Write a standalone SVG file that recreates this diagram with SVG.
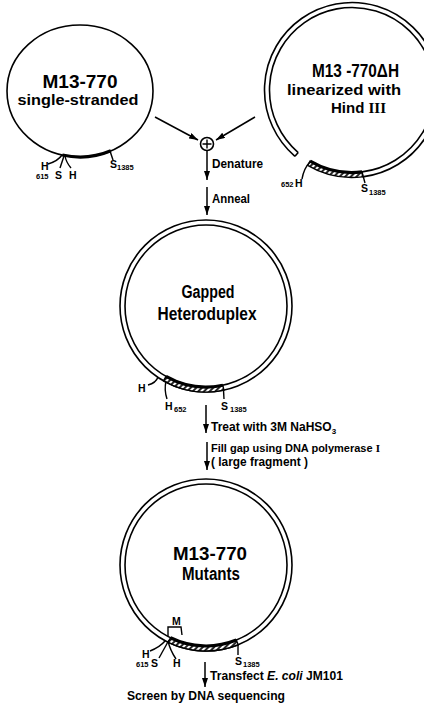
<svg xmlns="http://www.w3.org/2000/svg" width="424" height="711" viewBox="0 0 424 711">
<style>
text{font-family:"Liberation Sans",Arial,sans-serif;font-weight:bold;fill:#000}
.serif{font-family:"Liberation Serif","Times New Roman",serif}
.ring{fill:none;stroke:#000;stroke-width:1.6}
.thin{fill:none;stroke:#000;stroke-width:1.4}
.band{fill:url(#hatch);stroke:#000;stroke-width:1.4}
.thick{fill:none;stroke:#000;stroke-width:3.2}
.arr{fill:none;stroke:#000;stroke-width:1.5;marker-end:url(#ah)}
.lbl{font-size:10.5px}
.sub{font-size:7.5px}
.title{font-size:18px}
.mid{font-size:15px}
.step{font-size:12px}
</style>
<defs>
<pattern id="hatch" patternUnits="userSpaceOnUse" width="4" height="4" patternTransform="rotate(45)">
<rect width="4" height="4" fill="#fff"/>
<line x1="1" y1="0" x2="1" y2="4" stroke="#000" stroke-width="1.7"/>
</pattern>
<marker id="ah" markerWidth="10" markerHeight="7" refX="9" refY="3" orient="auto" markerUnits="userSpaceOnUse">
<path d="M0,0 L9,3 L0,6 z" fill="#000"/>
</marker>
</defs>

<g id="node-ss">
<ellipse class="ring" cx="80" cy="91" rx="73" ry="66"/>
<path class="thick" d="M62.34,155.03 A73,66 0 0 0 110.85,150.81"/>
<path class="thin" d="M48,164 Q58,161 62,155"/>
<path class="thin" d="M60,168 L64,156"/>
<path class="thin" d="M71,168 Q66,162 65,156"/>
<path class="thin" d="M110,151 L113,160"/>
<text class="title" x="80" y="88" text-anchor="middle" textLength="75" lengthAdjust="spacingAndGlyphs">M13-770</text>
<text class="mid" x="78" y="105" text-anchor="middle" textLength="121" lengthAdjust="spacingAndGlyphs">single-stranded</text>
<text class="lbl" x="41" y="170">H</text>
<text class="sub" x="36" y="179">615</text>
<text class="lbl" x="55" y="179">S</text>
<text class="lbl" x="69" y="179">H</text>
<text class="lbl" x="110" y="168">S</text>
<text class="sub" x="117" y="170">1385</text>
</g>

<g id="node-lin">
<path class="ring" d="M294.94,156.33 A87.5,87.5 0 1 1 362.66,176.85"/>
<path class="ring" d="M298.20,152.54 A82.5,82.5 0 1 1 362.06,171.88"/>
<path class="ring" d="M294.94,156.33 L298.20,152.54"/>
<path class="band" d="M307.59,165.39 A87.5,87.5 0 0 0 362.66,176.85 L362.06,171.88 A82.5,82.5 0 0 1 310.13,161.08 Z"/>
<path class="thick" d="M310.13,161.08 A82.5,82.5 0 0 0 362.06,171.88"/>
<path class="thin" d="M302,179 Q304,168 310,162"/>
<path class="thin" d="M362,172 L365,183"/>
<text class="title" x="355.5" y="77" text-anchor="middle" textLength="87" lengthAdjust="spacingAndGlyphs">M13 -770ΔH</text>
<text class="mid" x="344" y="95" text-anchor="middle" textLength="114" lengthAdjust="spacingAndGlyphs">linearized  with</text>
<text class="mid" x="331" y="113">Hind <tspan class="serif">III</tspan></text>
<text class="sub" x="281" y="187">652</text>
<text class="lbl" x="295" y="187">H</text>
<text class="lbl" x="361" y="192">S</text>
<text class="sub" x="369" y="195">1385</text>
</g>

<g id="node-plus">
<circle class="ring" cx="207" cy="144" r="6.5"/>
<path class="thin" d="M207,139.5 L207,148.5 M202.5,144 L211.5,144"/>
</g>

<g id="node-gapped">
<circle class="ring" cx="206" cy="306" r="86"/>
<circle class="ring" cx="206" cy="306" r="81"/>
<path class="band" d="M163.52,380.78 A86,86 0 0 0 223.88,390.12 L222.84,385.23 A81,81 0 0 1 165.99,376.43 Z"/>
<path class="thick" d="M165.99,376.43 A81,81 0 0 0 222.84,385.23"/>
<path class="thin" d="M148,385 Q156,383 158,377"/>
<path class="thin" d="M167,399 Q164,390 166,381"/>
<path class="thin" d="M224,399 L223.5,390"/>
<text class="title" x="208" y="298" text-anchor="middle" textLength="53" lengthAdjust="spacingAndGlyphs">Gapped</text>
<text class="title" x="207" y="320" text-anchor="middle" textLength="99" lengthAdjust="spacingAndGlyphs">Heteroduplex</text>
<text class="lbl" x="138" y="392">H</text>
<text class="lbl" x="165" y="410">H</text>
<text class="sub" x="174" y="412">652</text>
<text class="lbl" x="221" y="410">S</text>
<text class="sub" x="230" y="412">1385</text>
</g>

<g id="node-mutants">
<circle class="ring" cx="206" cy="565" r="86"/>
<circle class="ring" cx="206" cy="565" r="81"/>
<path class="band" d="M168.30,642.30 A86,86 0 0 0 238.22,644.74 L236.34,640.10 A81,81 0 0 1 170.49,637.80 Z"/>
<path class="thick" d="M170.49,637.80 A81,81 0 0 0 236.34,640.10"/>
<path class="thin" d="M168,636 L168,627 L181,627 L182,635"/>
<path class="thin" d="M150,651 Q160,647 165,641"/>
<path class="thin" d="M159,658 L169,640"/>
<path class="thin" d="M176,659 Q170,650 168,641"/>
<path class="thin" d="M238,645 L238,655"/>
<text class="title" x="210" y="560" text-anchor="middle" textLength="74" lengthAdjust="spacingAndGlyphs">M13-770</text>
<text class="title" x="211" y="580" text-anchor="middle" textLength="58" lengthAdjust="spacingAndGlyphs">Mutants</text>
<text class="lbl" x="172" y="625">M</text>
<text class="lbl" x="142" y="658">H</text>
<text class="sub" x="136" y="667">615</text>
<text class="lbl" x="151" y="667">S</text>
<text class="lbl" x="173" y="667">H</text>
<text class="lbl" x="235" y="665">S</text>
<text class="sub" x="243" y="667">1385</text>
</g>

<g id="connectors">
<path class="arr" d="M155,117 L198,140"/>
<path class="arr" d="M255,117 L216,140"/>
<path class="arr" d="M207,151 L207,180"/>
<path class="arr" d="M207,187 L207,215"/>
<path class="arr" d="M206,405 L206,433"/>
<path class="arr" d="M207,442 L207,470"/>
<path class="arr" d="M205,662 L205,687"/>
</g>

<g id="labels">
<text class="step" x="212" y="168" textLength="51" lengthAdjust="spacingAndGlyphs">Denature</text>
<text class="step" x="212" y="203" textLength="38" lengthAdjust="spacingAndGlyphs">Anneal</text>
<text class="step" x="211" y="431">Treat with 3M NaHSO<tspan font-size="8" dy="3">3</tspan></text>
<text class="step" x="211" y="452" style="font-size:11px">Fill gap using DNA polymerase <tspan class="serif">I</tspan></text>
<text class="step" x="211" y="466" textLength="97" lengthAdjust="spacingAndGlyphs">( large fragment )</text>
<text class="step" x="210" y="680" textLength="133" lengthAdjust="spacingAndGlyphs">Transfect <tspan font-style="italic">E. coli</tspan>  JM101</text>
<text class="step" x="127" y="700" textLength="158" lengthAdjust="spacingAndGlyphs">Screen by DNA  sequencing</text>
</g>
</svg>
